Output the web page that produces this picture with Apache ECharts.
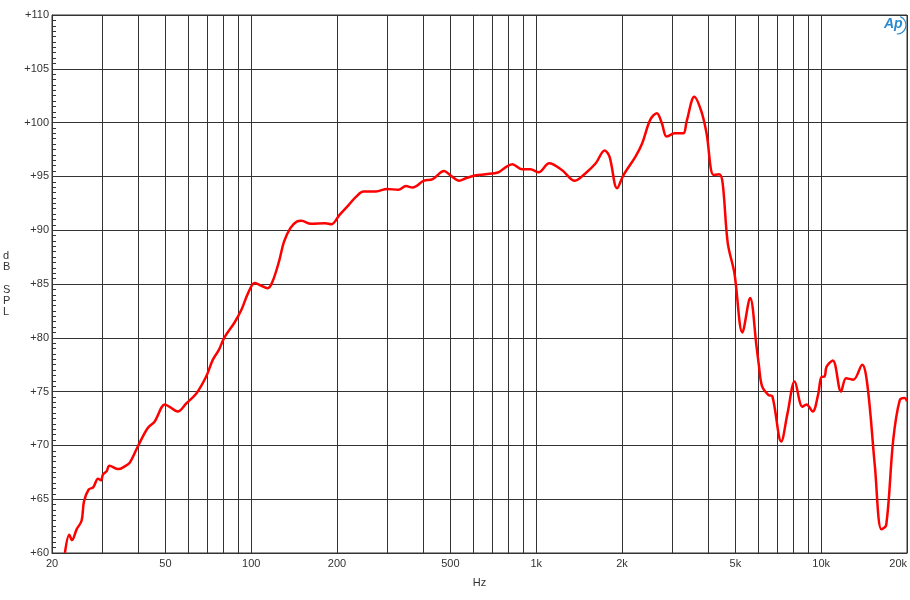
<!DOCTYPE html>
<html>
<head>
<meta charset="utf-8">
<script src="https://cdn.jsdelivr.net/npm/echarts@6/dist/echarts.min.js"></script>
<style>html,body{margin:0;padding:0;background:#fff}#c{width:910px;height:600px}</style>
</head>
<body>
<div id="c"></div>
<script>
var freqs = [22.2,23.0,23.5,24.4,25.4,25.9,26.9,27.9,29.0,29.7,30.2,31.1,31.8,34.2,36.0,37.5,40.0,43.3,45.8,49.8,51.6,55.2,59.2,64.3,69.5,73.3,77.1,80.4,87.3,92.4,97.5,102.8,107.2,114.3,118.7,125.2,130.2,137.2,144.5,150,162,182,191,203.8,220,233,248,274,300,328,349,368,404,433,475,500,537,566,614,665,738,778,824,892,953,1020,1111,1230,1366,1490,1615,1740,1808,1922,2022,2230,2355,2512,2650,2760,2870,3060,3280,3370,3590,3800,3960,4190,4390,4510,4700,4960,5290,5630,5930,6040,6200,6520,6740,7240,7620,8070,8590,8880,9330,9750,10016,10280,10440,10980,11740,12230,12960,13920,14540,15430,16260,16910,17890,18860,19620,20000];
var spl = [60.0,61.7,61.2,62.2,63.0,64.8,65.9,66.1,66.9,66.75,67.3,67.6,68.1,67.8,68.05,68.4,69.9,71.6,72.2,73.8,73.6,73.15,73.9,74.85,76.4,77.95,78.9,80.0,81.4,82.6,84.15,85.1,84.9,84.6,85.2,87.1,88.9,90.2,90.8,90.87,90.6,90.65,90.55,91.4,92.35,93.1,93.6,93.6,93.84,93.75,94.1,93.96,94.6,94.74,95.5,95.1,94.6,94.83,95.1,95.2,95.39,95.82,96.13,95.67,95.67,95.39,96.22,95.6,94.6,95.3,96.2,97.4,96.84,93.9,95.1,96.84,98.08,100.25,100.87,99.94,98.7,99.0,99.0,100.1,102.41,101.02,99.0,95.14,95.2,94.37,88.8,86.0,80.5,83.7,79.2,77.5,75.5,74.7,74.55,70.37,73.0,75.94,73.6,73.8,73.15,74.7,76.35,76.4,77.3,77.9,75.0,76.25,76.1,77.5,75.5,68.04,62.2,62.6,70.5,74.2,74.4,74.1];
var gridFreqs = [20,30,40,50,60,70,80,90,100,200,300,400,500,600,700,800,900,1000,2000,3000,4000,5000,6000,7000,8000,9000,10000,20000];
var labelFreqs = [20,50,100,200,500,1000,2000,5000,10000,20000];

var data = freqs.map(function(f,i){return [f, spl[i]];});
var chart = echarts.init(document.getElementById('c'), null, {renderer:'canvas'});
var lineCol = '#333';
chart.setOption({
  animation:false,
  backgroundColor:'#fff',
  textStyle:{fontFamily:'Liberation Sans, Arial, sans-serif'},
  grid:{left:52,right:0.5,top:15,bottom:47,show:true,borderColor:lineCol,borderWidth:1,containLabel:false},
  xAxis:{
    type:'log', logBase:10, min:20, max:20000,
    name:'Hz', nameLocation:'middle', nameGap:24,
    nameTextStyle:{color:'#333',fontSize:11},
    axisLine:{show:true,lineStyle:{color:lineCol}},
    axisTick:{show:true,length:0,customValues:gridFreqs,lineStyle:{color:lineCol}},
    axisLabel:{customValues:labelFreqs,color:'#333',fontSize:11,margin:5,alignMaxLabel:'right',
      formatter:function(v){v=Math.round(v);return v>=1000?(v/1000)+'k':String(v);}},
    splitLine:{show:true,lineStyle:{color:lineCol,width:1}}
  },
  yAxis:{
    type:'value', min:60, max:110, interval:5,
    axisLine:{show:true,lineStyle:{color:lineCol}},
    axisTick:{show:true,inside:true,length:5,lineStyle:{color:lineCol}},
    minorTick:{show:true,splitNumber:10,length:4,lineStyle:{color:lineCol}},
    axisLabel:{color:'#333',fontSize:11,margin:3,formatter:function(v){return '+'+v;}},
    splitLine:{show:true,lineStyle:{color:lineCol,width:1}}
  },
  graphic:[
    {type:'text',x:3,y:250,style:{text:'d\nB\n\nS\nP\nL',fill:'#333',font:'11px Liberation Sans, Arial, sans-serif',lineHeight:11.3,align:'left'}},
    {type:'text',x:884,y:17,style:{text:'Ap',fill:'#2a8ad0',font:'italic bold 14px Liberation Sans, Arial, sans-serif'}},
    {type:'arc',shape:{cx:897,cy:25,r:9,startAngle:-1.2,endAngle:1.6},style:{stroke:'#2a8ad0',lineWidth:1.2,fill:null}}
  ],
  series:[{
    type:'line', data:data, showSymbol:false, smooth:0.35,
    lineStyle:{color:'#ff0000',width:2.5}, itemStyle:{color:'#ff0000'}, clip:true
  }]
});
</script>
</body>
</html>
